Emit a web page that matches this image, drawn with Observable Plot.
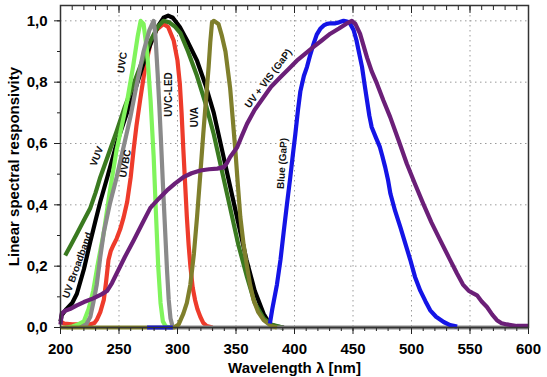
<!DOCTYPE html>
<html>
<head>
<meta charset="utf-8">
<script src="https://cdn.jsdelivr.net/npm/d3@7"></script>
<script src="https://cdn.jsdelivr.net/npm/@observablehq/plot@0.6"></script>
<style>
  body { margin: 0; background: #fff; }
  #chart svg { display: block; }
</style>
</head>
<body>
<div id="chart"></div>
<script>
// ---- data ----
// drawing order (back to front)
const seriesNames = ["UVBC", "UV Broadband", "VUV", "UVC", "UVC-LED", "UVA", "Blue (GaP)", "UV + VIS (GaP)"];
const seriesColors = ["#ee3b2b", "#000000", "#3a7a20", "#80f45c", "#8a8a8a", "#7f7f2c", "#1414e6", "#6b1f78"];

// NaN marks a break (the flat part there is hidden under the grey baseline)
const blueWl = [274,296,300,379,381,385,388,390.7,393.5,396.4,398.5,400.7,403,405,408,410.7,413.5,416.3,419,422,425,427.8,431,435,438,442,445,447.7,450.5,453,455.5,457.7,460,462,464,466,469.5,473,475,477.5,480,482,486,490.4,495,499,503,507.5,512,516,521,527.5,533,539];
const blueVal = [0,0,NaN,0.013,0.06,0.14,0.22,0.31,0.40,0.49,0.56,0.63,0.71,0.77,0.82,0.85,0.89,0.925,0.955,0.974,0.985,0.99,0.992,0.992,0.995,1.0,0.998,0.99,0.97,0.936,0.89,0.85,0.79,0.74,0.69,0.653,0.62,0.588,0.56,0.523,0.48,0.436,0.38,0.328,0.27,0.22,0.165,0.12,0.085,0.056,0.035,0.018,0.008,0.003];

const uvaWl = [200,297,301,305,308,311,314,316.7,319.5,322,324.5,326.6,328,329.5,331,335,338,341,345,347,349.4,351.5,353.7,356.5,359.4,362,365,369,373.6,380,385];
const uvaVal = [0,0,0.01,0.045,0.08,0.14,0.24,0.36,0.50,0.63,0.75,0.85,0.93,0.995,1.0,0.99,0.95,0.90,0.78,0.69,0.58,0.47,0.36,0.27,0.20,0.14,0.09,0.05,0.024,0.005,0];

const uvbcWl = [200,203,210,225,229,231,234,237,239,241,243,245.4,248,251,254,257,260,262.5,265,268,272,276.8,282,288,292,296.7,300,302,303.5,305,306.5,308,309.5,311,313,315,317,319.5,322,325,330];
const uvbcVal = [0.02,0.013,0.01,0.01,0.015,0.025,0.05,0.09,0.15,0.22,0.25,0.27,0.29,0.32,0.36,0.41,0.49,0.58,0.66,0.74,0.84,0.925,0.97,0.99,0.98,0.936,0.87,0.795,0.70,0.58,0.47,0.36,0.27,0.20,0.13,0.09,0.06,0.035,0.015,0.005,0];

const broadWl = [200,201,205,210,214,220,225.5,230,234,240,248,255,262.5,270,277,283,288,292,296,302,309,316.7,324,331,338,345,352,359,366,373.6,379,385,391];
const broadVal = [0.02,0.04,0.06,0.08,0.11,0.19,0.28,0.35,0.41,0.49,0.60,0.68,0.76,0.85,0.925,0.98,1.01,1.017,1.01,0.98,0.93,0.87,0.79,0.70,0.58,0.46,0.34,0.22,0.12,0.045,0.01,0.003,0];

const vuvWl = [204,209,214,220,225.5,230,234,241,248,255,262.5,270,277,283,288,293,298,302.5,309,316.7,324,331,338,345,352,359.4,366,373.6,380,390];
const vuvVal = [0.235,0.27,0.306,0.35,0.39,0.44,0.49,0.565,0.64,0.72,0.795,0.87,0.936,0.98,1.0,0.995,0.98,0.96,0.90,0.82,0.73,0.63,0.51,0.39,0.27,0.165,0.08,0.03,0.01,0];

const uvcWl = [205,210,215,220,224,228,232,237,242,248,257,262,266,268.5,271,274,277,279.6,281.5,283.5,285.5,287.5,290,295];
const uvcVal = [0,0.003,0.01,0.02,0.06,0.12,0.21,0.31,0.44,0.58,0.74,0.85,0.95,1.0,0.99,0.90,0.74,0.56,0.38,0.2,0.08,0.02,0.003,0];

const visWl = [200,201,204,208,214,220,228,235,240,244,248,255,262.5,270,276.8,284,291,298,305,312,319.5,327,334,339.5,342,345,351,355,359.4,366,373.6,380,387.9,395,402,409,416,423,430.6,438,444,449,452,456,462,466,470.5,476,481.8,489,496,503,510,517,524.6,532,538.9,544,548.8,552,556,560,564.5,569,573,577,581.6,590,600];
const visVal = [0.01,0.045,0.055,0.06,0.072,0.083,0.095,0.108,0.12,0.145,0.176,0.23,0.284,0.34,0.39,0.42,0.447,0.47,0.49,0.503,0.512,0.516,0.518,0.523,0.535,0.556,0.588,0.625,0.664,0.71,0.751,0.785,0.816,0.843,0.87,0.892,0.914,0.935,0.958,0.975,0.99,1.0,0.99,0.958,0.88,0.835,0.795,0.74,0.686,0.61,0.534,0.468,0.404,0.343,0.284,0.228,0.176,0.14,0.12,0.113,0.105,0.085,0.067,0.042,0.024,0.014,0.01,0.005,0.005];

const ledWl = [217,222,225.5,228,231,234,237,242,248,254,259.7,265,271,276,279.6,281,283,284.5,286,287.5,289,291,292.5,294,296,600];
const ledVal = [0,0.01,0.035,0.08,0.14,0.23,0.31,0.40,0.49,0.59,0.686,0.79,0.90,0.97,1.0,0.96,0.83,0.72,0.6,0.47,0.35,0.19,0.09,0.03,0,0];

const seriesWl = [uvbcWl, broadWl, vuvWl, uvcWl, ledWl, uvaWl, blueWl, visWl];
const seriesVal = [uvbcVal, broadVal, vuvVal, uvcVal, ledVal, uvaVal, blueVal, visVal];

// in-plot labels (wavelength, value, rotation)
const labelTexts = ["UVC", "VUV", "UVBC", "UVC-LED", "UVA", "UV Broadband", "UV + VIS (GaP)", "Blue (GaP)"];
const labelWl = [252.8, 231, 255.4, 292.3, 315, 214.4, 377.6, 389.6];
const labelVal = [0.864, 0.558, 0.535, 0.76, 0.686, 0.203, 0.812, 0.535];
const labelRotate = [-82, -68, -80, -90, -90, -70, -53, -86];

const xMajor = d3.range(200, 601, 50);
const xMinor = d3.range(200, 601, 10);
const yMajor = [0, 0.2, 0.4, 0.6, 0.8, 1.0];
const yMinor = d3.range(0, 1.01, 0.1);
const xTitle = "Wavelength λ [nm]";
const yTitle = "Linear spectral responsivity";

// ---- build ----
const lineMarks = seriesNames.map((name, i) => {
  const rows = seriesWl[i].map((w, j) => ({wl: w, v: seriesVal[i][j]}));
  return Plot.line(rows, {x: "wl", y: "v", stroke: seriesColors[i], strokeWidth: 4.2, curve: "linear", strokeLinejoin: "round", strokeLinecap: "butt"});
});

const labels = labelTexts.map((t, i) => ({t, wl: labelWl[i], v: labelVal[i], r: labelRotate[i]}));
const fmt = d => d.toFixed(1).replace(".", ",");
const axisFont = {fontSize: 15, fontWeight: "bold"};

const chart = Plot.plot({
  width: 547,
  height: 377,
  marginLeft: 60,
  marginRight: 19,
  marginTop: 5,
  marginBottom: 50,
  style: {fontFamily: "'Liberation Sans', Arial, sans-serif", color: "#000", background: "#fff", overflow: "visible"},
  x: {domain: [200, 600]},
  y: {domain: [0, 1.05]},
  marks: [
    Plot.gridX(xMajor.filter(d => d > 200 && d < 600), {stroke: "#9a9a9a", strokeOpacity: 1, strokeDasharray: "1.5,3.5", strokeWidth: 1}),
    Plot.gridY(yMajor.filter(d => d > 0), {stroke: "#9a9a9a", strokeOpacity: 1, strokeDasharray: "1.5,3.5", strokeWidth: 1}),
    ...lineMarks,
    ...labels.map(d => Plot.text([d], {x: "wl", y: "v", text: "t", rotate: d.r, fontSize: 10, fontWeight: "bold", fill: "#111"})),
    Plot.axisX({ticks: xMinor, tickSize: 4, text: null, label: null, stroke: "#222"}),
    Plot.axisX({ticks: xMajor, tickSize: 7, tickPadding: 9, tickFormat: d => String(d), label: null, stroke: "#222", ...axisFont}),
    Plot.axisX({anchor: "top", ticks: xMinor, tickSize: -4, text: null, label: null, stroke: "#222"}),
    Plot.axisX({anchor: "top", ticks: xMajor, tickSize: -7, text: null, label: null, stroke: "#222"}),
    Plot.axisY({ticks: yMinor, tickSize: 3, text: null, label: null, stroke: "#222"}),
    Plot.axisY({ticks: yMajor, tickSize: 6, tickPadding: 7, tickFormat: fmt, label: null, stroke: "#222", ...axisFont}),
    Plot.frame({stroke: "#333", strokeWidth: 1.5}),
    Plot.text([xTitle], {frameAnchor: "bottom", dy: 41, lineAnchor: "middle", textAnchor: "middle", fontSize: 15, fontWeight: "bold", fill: "#000"}),
    Plot.text([yTitle], {frameAnchor: "left", dx: -46, rotate: -90, textAnchor: "middle", lineAnchor: "middle", fontSize: 15, fontWeight: "bold", fill: "#000"})
  ]
});
document.getElementById("chart").appendChild(chart);
</script>
</body>
</html>
